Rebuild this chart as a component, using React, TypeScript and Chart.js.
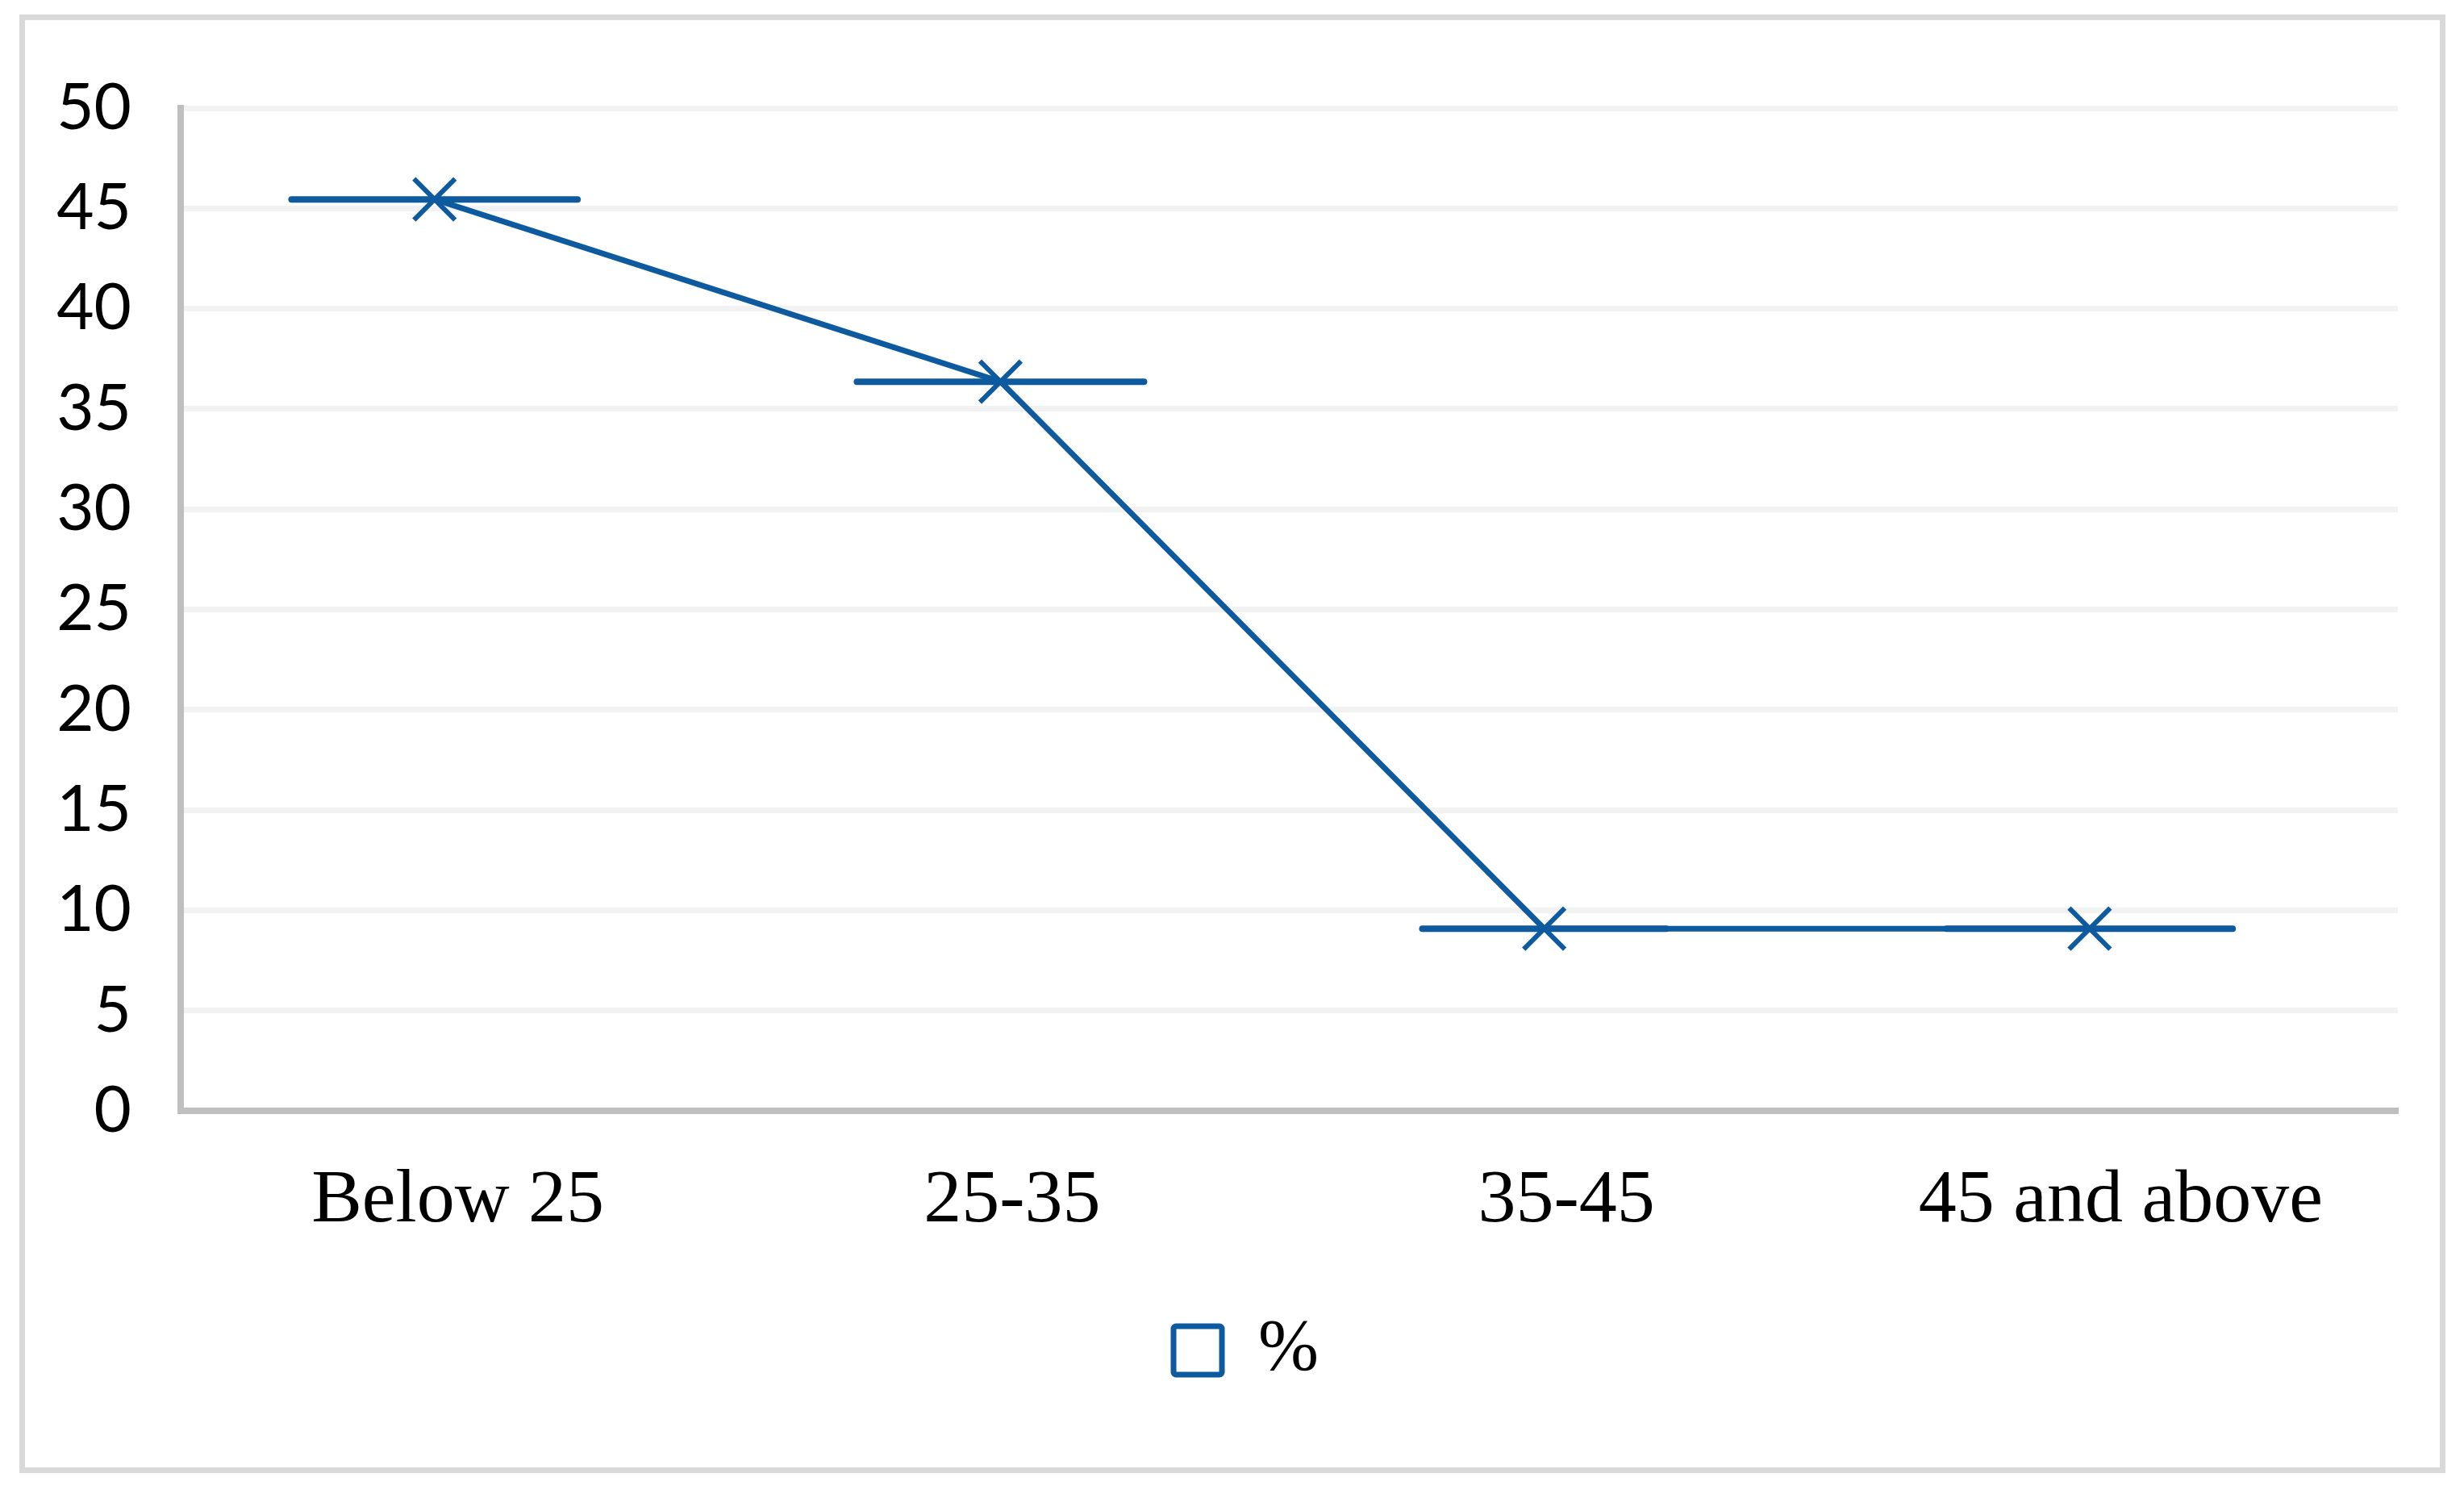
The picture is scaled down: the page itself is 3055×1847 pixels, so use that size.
import { useEffect, useRef } from "react";
import { Chart, registerables, type ChartConfiguration, type Plugin } from "chart.js";

Chart.register(...registerables);

const BLUE = "#0E5A9F";

// age groups on the x axis
const CATEGORIES = ["Below 25", "25-35", "35-45", "45 and above"];
// share of respondents (%)
const VALUES = [45.45, 36.36, 9.09, 9.09];
// x position of each marker (in category units, 0..4)
const X_POS = [0.458, 1.479, 2.46, 3.444];
// half width of the horizontal bar through each marker
const X_ERR = [0.258, 0.259, 0.22, 0.258];
const Y_TICKS = [0, 5, 10, 15, 20, 25, 30, 35, 40, 45, 50];

// the legend in the original sits a bit right of the canvas centre
const legendNudge: Plugin<"scatter"> = {
  id: "legendNudge",
  afterLayout(chart) {
    const lg = (chart as any).legend;
    if (!lg) return;
    lg.left += 23;
    lg.right += 23;
  },
};

export default function App() {
  const canvasRef = useRef<HTMLCanvasElement>(null);
  const chartRef = useRef<Chart | null>(null);

  useEffect(() => {
    if (!canvasRef.current) return;
    chartRef.current?.destroy();

    const catPos = CATEGORIES.map((_, i) => i + 0.5);

    const errorBars = VALUES.map((v, i) => ({
      label: "err" + i,
      data: [
        { x: X_POS[i] - X_ERR[i], y: v },
        { x: X_POS[i] + X_ERR[i], y: v },
      ],
      showLine: true,
      borderColor: BLUE,
      backgroundColor: BLUE,
      borderWidth: 8,
      borderCapStyle: "round" as const,
      pointRadius: 0,
    }));

    const config: ChartConfiguration<"scatter"> = {
      type: "scatter",
      data: {
        datasets: [
          {
            label: "%",
            data: VALUES.map((v, i) => ({ x: X_POS[i], y: v })),
            showLine: true,
            borderColor: BLUE,
            backgroundColor: "#ffffff",
            borderWidth: 7,
            pointStyle: "crossRot",
            pointRadius: 36,
            pointBorderColor: BLUE,
            pointBorderWidth: 6,
          },
          ...errorBars,
        ],
      },
      plugins: [legendNudge],
      options: {
        responsive: true,
        maintainAspectRatio: false,
        animation: false,
        layout: { padding: { top: 97, right: 51, left: 40, bottom: 89 } },
        plugins: {
          tooltip: { enabled: false },
          legend: {
            position: "bottom",
            labels: {
              filter: (item) => item.datasetIndex === 0,
              font: { family: "'Liberation Serif', 'Times New Roman', serif", size: 90 },
              color: "#000",
              boxWidth: 60,
              boxHeight: 60,
              padding: 27,
              useBorderRadius: true,
              borderRadius: 3,
            },
          },
        },
        scales: {
          x: {
            type: "linear",
            min: 0,
            max: CATEGORIES.length,
            grid: { display: false, drawTicks: false },
            border: { color: "#bfbfbf", width: 8 },
            afterBuildTicks: (axis) => {
              axis.ticks = catPos.map((value) => ({ value }));
            },
            ticks: {
              autoSkip: false,
              maxRotation: 0,
              padding: 56,
              color: "#000",
              font: { family: "'Liberation Serif', 'Times New Roman', serif", size: 94 },
              callback: (_v, i) => CATEGORIES[i],
            },
          },
          y: {
            min: 0,
            max: 50,
            afterFit: (axis) => {
              axis.width = 153;
            },
            afterBuildTicks: (axis) => {
              axis.ticks = Y_TICKS.map((value) => ({ value }));
            },
            grid: {
              drawTicks: false,
              color: (ctx) => (ctx.tick && ctx.tick.value === 0 ? "rgba(0,0,0,0)" : "#f2f2f2"),
              lineWidth: 7,
            },
            border: { color: "#bfbfbf", width: 8 },
            ticks: {
              padding: 61,
              color: "#000",
              font: { family: "Lato, 'Noto Sans', sans-serif", size: 80 },
            },
          },
        },
      },
    };

    chartRef.current = new Chart(canvasRef.current, config);

    return () => {
      chartRef.current?.destroy();
      chartRef.current = null;
    };
  }, []);

  return (
    <div
      style={{
        position: "absolute",
        left: 0,
        top: 0,
        width: 3055,
        height: 1847,
        background: "#ffffff",
      }}
    >
      {/* outer frame */}
      <div
        style={{
          position: "absolute",
          left: 24,
          top: 18,
          width: 3008,
          height: 1808,
          boxSizing: "border-box",
          border: "7px solid #d9d9d9",
        }}
      />
      <div style={{ position: "absolute", left: 31, top: 25, width: 2993, height: 1793 }}>
        <canvas ref={canvasRef} />
      </div>
    </div>
  );
}
